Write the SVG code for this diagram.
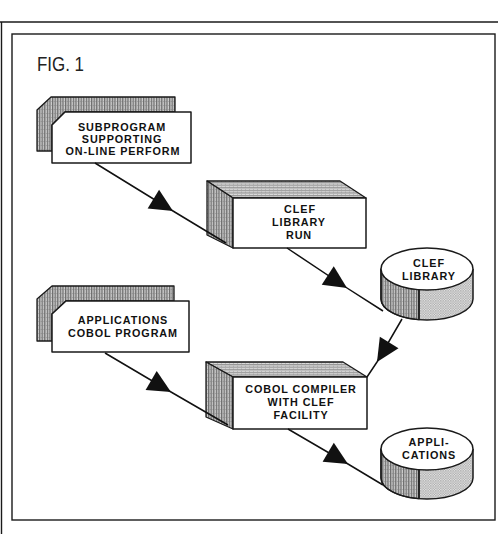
<svg xmlns="http://www.w3.org/2000/svg" width="498" height="534" viewBox="0 0 498 534">
<style>
.frame{fill:none;stroke:#1a1a1a;stroke-width:1.4}
.ol{stroke:#1a1a1a;stroke-width:1.5;stroke-linejoin:round}
.card{fill:#fff;stroke:#1a1a1a;stroke-width:1.5;stroke-linejoin:round}
.hv{fill:url(#vh);stroke:#1a1a1a;stroke-width:1.3;stroke-linejoin:round}
.ht{fill:url(#hh);stroke:#1a1a1a;stroke-width:1.3;stroke-linejoin:round}
.dt{fill:url(#dots);stroke:none}
.lbl{font-family:"Liberation Sans",Arial,Helvetica,sans-serif;font-weight:bold;font-size:10.8px;letter-spacing:0.9px;fill:#111;text-anchor:middle}
.fig{font-family:"Liberation Sans",Arial,Helvetica,sans-serif;font-size:20px;fill:#222}
.conn{fill:none;stroke:#111;stroke-width:1.5;marker-mid:url(#ah)}
</style>
<defs>
<pattern id="vh" width="2.6" height="4" patternUnits="userSpaceOnUse">
<rect width="2.6" height="4" fill="#cfcfcf"/>
<line x1="0.7" y1="0" x2="0.7" y2="4" stroke="#444" stroke-width="0.9"/>
<line x1="1.6" y1="1.5" x2="2.4" y2="1.5" stroke="#888" stroke-width="0.6"/>
</pattern>
<pattern id="hh" width="4" height="2.6" patternUnits="userSpaceOnUse">
<rect width="4" height="2.6" fill="#dcdcdc"/>
<line x1="0" y1="0.7" x2="4" y2="0.7" stroke="#666" stroke-width="0.8"/>
<line x1="1.5" y1="1.7" x2="1.5" y2="2.4" stroke="#999" stroke-width="0.6"/>
</pattern>
<pattern id="dots" width="2.5" height="2.5" patternUnits="userSpaceOnUse">
<rect width="2.5" height="2.5" fill="#e2e2e2"/>
<circle cx="0.8" cy="0.8" r="0.6" fill="#777"/>
<circle cx="2" cy="2" r="0.45" fill="#999"/>
</pattern>
<marker id="ah" viewBox="-24 -12 25 24" refX="0" refY="0" markerWidth="25" markerHeight="24" markerUnits="userSpaceOnUse" orient="auto">
<path d="M0,0 L-23,-11 L-23,11 Z" fill="#111"/>
</marker>
</defs>

<g id="frame">
<line class="frame" x1="0" y1="22" x2="498" y2="22" stroke-width="1.6"/>
<line class="frame" x1="1.5" y1="22" x2="1.5" y2="534"/>
<rect class="frame" x="12" y="34" width="483" height="486"/>
<text class="fig" x="37" y="71" textLength="47" lengthAdjust="spacingAndGlyphs">FIG. 1</text>
</g>

<g id="subprogram">
<path class="hv" d="M37,110 L51,97 L175,97 L175,112 L65,112 L52,125 L52,151 L37,151 Z"/>
<path class="card" d="M65,112 L191,112 L191,163 L52,163 L52,125 Z"/>
<text class="lbl" x="122" y="131">SUBPROGRAM</text>
<text class="lbl" x="122" y="143">SUPPORTING</text>
<text class="lbl" x="123" y="155">ON-LINE PERFORM</text>
</g>

<g id="clef-library-run">
<path class="ht" d="M207,181 L340,181 L366,198 L233,198 Z"/>
<path class="hv" d="M207,181 L233,198 L233,248 L207,235 Z"/>
<rect class="card" x="233" y="198" width="133" height="50"/>
<text class="lbl" x="300" y="213">CLEF</text>
<text class="lbl" x="299" y="226">LIBRARY</text>
<text class="lbl" x="299" y="238.5">RUN</text>
</g>

<g id="clef-library">
<path class="dt" d="M381,269 A46,21 0 0 0 473,269 L473,299 A46,21 0 0 1 381,299 Z"/>
<path class="hv" stroke="none" d="M381,269 A46,21 0 0 0 419,289.7 L419,319.7 A46,21 0 0 1 381,299 Z"/>
<line class="ol" x1="419" y1="289.7" x2="419" y2="319.7" stroke-width="1"/>
<path class="ol" fill="none" d="M381,269 L381,299 A46,21 0 0 0 473,299 L473,269"/>
<ellipse class="card" cx="427" cy="269" rx="46" ry="21"/>
<text class="lbl" x="429" y="267">CLEF</text>
<text class="lbl" x="429" y="280">LIBRARY</text>
</g>

<g id="applications-cobol-program">
<path class="hv" d="M37,299 L52,286 L174,286 L174,301 L66,301 L52,314 L52,341 L37,341 Z"/>
<path class="card" d="M66,301 L189,301 L189,352 L52,352 L52,314 Z"/>
<text class="lbl" x="123" y="324">APPLICATIONS</text>
<text class="lbl" x="123" y="337">COBOL PROGRAM</text>
</g>

<g id="cobol-compiler">
<path class="ht" d="M206,362 L343,362 L367,377 L233,377 Z"/>
<path class="hv" d="M206,362 L233,377 L233,429 L206,417 Z"/>
<rect class="card" x="233" y="377" width="134" height="52"/>
<text class="lbl" x="301" y="393">COBOL COMPILER</text>
<text class="lbl" x="301" y="406">WITH CLEF</text>
<text class="lbl" x="301" y="418.5">FACILITY</text>
</g>

<g id="applications">
<path class="dt" d="M381,449 A46,21 0 0 0 473,449 L473,478 A46,21 0 0 1 381,478 Z"/>
<path class="hv" stroke="none" d="M381,449 A46,21 0 0 0 419,469.7 L419,498.7 A46,21 0 0 1 381,478 Z"/>
<line class="ol" x1="419" y1="469.7" x2="419" y2="498.7" stroke-width="1"/>
<path class="ol" fill="none" d="M381,449 L381,478 A46,21 0 0 0 473,478 L473,449"/>
<ellipse class="card" cx="427" cy="449" rx="46" ry="21"/>
<text class="lbl" x="429" y="446">APPLI-</text>
<text class="lbl" x="429" y="459">CATIONS</text>
</g>

<g id="connectors">
<path class="conn" d="M95,163 L173,211 L226,243"/>
<path class="conn" d="M287,248 L347,288 L383,311"/>
<path class="conn" d="M402,319 L377,362 L367,377"/>
<path class="conn" d="M105,353 L171,392 L228,425"/>
<path class="conn" d="M288,429 L348,464 L383,485"/>
</g>
</svg>
